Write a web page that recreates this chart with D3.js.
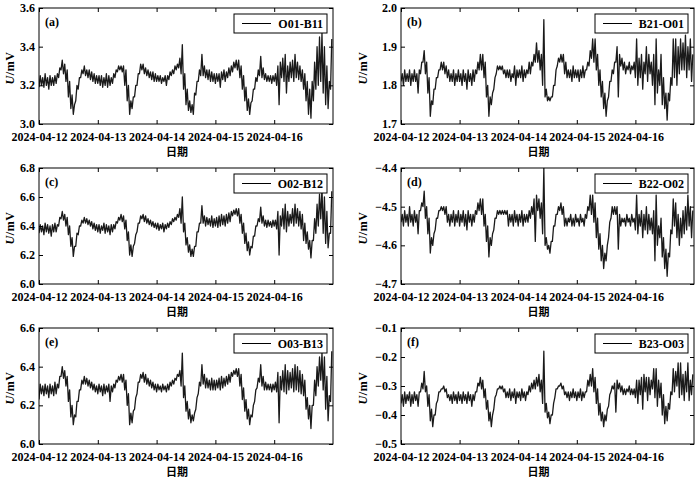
<!DOCTYPE html>
<html>
<head>
<meta charset="utf-8">
<script src="https://cdn.jsdelivr.net/npm/d3@7"></script>
<style>
    body { margin: 0; background: #fff; }
    text { font-family: "Liberation Serif", "Times New Roman", serif; fill: #000; }
</style>
</head>
<body>
<div id="chart"></div>
<script>

// ---- data (hourly low / high of each trace) ----
const dayLabels = ["2024-04-12", "2024-04-13", "2024-04-14", "2024-04-15", "2024-04-16"];
const panelTags = ["(a)", "(b)", "(c)", "(d)", "(e)", "(f)"];
const legendNames = ["O01-B11", "B21-O01", "O02-B12", "B22-O02", "O03-B13", "B23-O03"];

const yTicksA = [3.0, 3.2, 3.4, 3.6];
const yTicksB = [1.7, 1.8, 1.9, 2.0];
const yTicksC = [6.0, 6.2, 6.4, 6.6, 6.8];
const yTicksD = [-4.7, -4.6, -4.5, -4.4];
const yTicksE = [6.0, 6.2, 6.4, 6.6];
const yTicksF = [-0.5, -0.4, -0.3, -0.2, -0.1];

const loA = [3.19,3.20,3.19,3.20,3.18,3.20,3.20,3.21, 3.24,3.28,3.26,3.22,3.14,3.08,3.05,3.12,
    3.18,3.24,3.26,3.25,3.24,3.23,3.22,3.21, 3.21,3.20,3.19,3.20,3.19,3.20,3.21,3.24,
    3.27,3.28,3.27,3.20,3.12,3.05,3.08,3.14, 3.20,3.26,3.28,3.26,3.25,3.24,3.23,3.22,
    3.22,3.22,3.21,3.22,3.20,3.23,3.25,3.26, 3.28,3.29,3.26,3.18,3.10,3.07,3.06,3.05,
    3.15,3.22,3.25,3.25,3.24,3.23,3.22,3.22, 3.21,3.22,3.19,3.23,3.22,3.24,3.25,3.27,
    3.29,3.28,3.24,3.18,3.12,3.07,3.05,3.12, 3.18,3.22,3.25,3.24,3.23,3.22,3.22,3.21,
    3.22,3.20,3.10,3.24,3.22,3.16,3.22,3.24, 3.22,3.24,3.23,3.22,3.18,3.12,3.05,3.03,
    3.12,3.18,3.20,3.22,3.16,3.10,3.08,3.18];
const hiA = [3.25,3.24,3.26,3.24,3.25,3.24,3.25,3.26, 3.29,3.33,3.31,3.28,3.22,3.15,3.10,3.20,
    3.24,3.28,3.30,3.28,3.28,3.27,3.26,3.25, 3.25,3.25,3.24,3.26,3.25,3.24,3.26,3.28,
    3.30,3.30,3.30,3.28,3.20,3.12,3.14,3.20, 3.26,3.31,3.31,3.29,3.28,3.27,3.27,3.26,
    3.25,3.25,3.24,3.25,3.25,3.27,3.28,3.30, 3.31,3.34,3.41,3.26,3.18,3.12,3.10,3.16,
    3.22,3.28,3.36,3.30,3.28,3.28,3.27,3.26, 3.26,3.26,3.27,3.28,3.27,3.29,3.30,3.32,
    3.33,3.33,3.30,3.25,3.19,3.13,3.11,3.18, 3.24,3.28,3.35,3.29,3.26,3.25,3.25,3.25,
    3.26,3.30,3.32,3.34,3.36,3.30,3.32,3.33, 3.36,3.32,3.30,3.28,3.26,3.22,3.18,3.22,
    3.32,3.40,3.45,3.47,3.40,3.30,3.22,3.44];

const loB = [1.81,1.80,1.81,1.81,1.80,1.81,1.81,1.78, 1.83,1.86,1.83,1.78,1.72,1.75,1.79,1.82,
    1.84,1.84,1.83,1.82,1.81,1.81,1.80,1.81, 1.81,1.80,1.81,1.79,1.81,1.80,1.81,1.83,
    1.84,1.84,1.82,1.77,1.72,1.75,1.79,1.83, 1.84,1.84,1.83,1.82,1.82,1.81,1.82,1.80,
    1.82,1.82,1.81,1.82,1.83,1.83,1.85,1.86, 1.86,1.84,1.80,1.77,1.76,1.76,1.77,1.80,
    1.85,1.86,1.86,1.83,1.82,1.82,1.81,1.82, 1.82,1.81,1.82,1.82,1.84,1.85,1.87,1.86,
    1.84,1.80,1.77,1.74,1.72,1.77,1.81,1.83, 1.86,1.77,1.85,1.84,1.83,1.84,1.83,1.84,
    1.82,1.80,1.82,1.79,1.83,1.81,1.83,1.80, 1.75,1.78,1.80,1.75,1.74,1.71,1.76,1.80,
    1.82,1.80,1.83,1.84,1.84,1.82,1.84,1.81];
const hiB = [1.83,1.84,1.83,1.84,1.83,1.84,1.83,1.84, 1.86,1.89,1.86,1.82,1.76,1.79,1.82,1.84,
    1.86,1.86,1.85,1.84,1.83,1.84,1.83,1.84, 1.83,1.84,1.83,1.84,1.83,1.84,1.84,1.86,
    1.88,1.88,1.86,1.80,1.77,1.78,1.82,1.85, 1.85,1.85,1.84,1.84,1.84,1.83,1.85,1.84,
    1.84,1.85,1.84,1.84,1.86,1.86,1.88,1.91, 1.89,1.88,1.97,1.79,1.77,1.77,1.80,1.84,
    1.87,1.88,1.88,1.86,1.84,1.84,1.85,1.84, 1.84,1.84,1.85,1.84,1.86,1.89,1.92,1.92,
    1.88,1.84,1.81,1.78,1.76,1.81,1.84,1.86, 1.90,1.88,1.87,1.86,1.85,1.86,1.85,1.86,
    1.92,1.87,1.88,1.86,1.90,1.88,1.86,1.88, 1.92,1.84,1.88,1.82,1.78,1.78,1.82,1.92,
    1.92,1.90,1.92,1.91,1.93,1.90,1.92,1.88];

const loC = [6.35,6.36,6.34,6.36,6.35,6.33,6.36,6.36, 6.40,6.45,6.44,6.40,6.34,6.26,6.19,6.26,
    6.34,6.40,6.42,6.42,6.41,6.40,6.38,6.37, 6.36,6.35,6.37,6.35,6.36,6.34,6.36,6.38,
    6.42,6.44,6.43,6.38,6.30,6.20,6.19,6.28, 6.36,6.42,6.45,6.43,6.42,6.41,6.40,6.39,
    6.38,6.37,6.38,6.36,6.38,6.39,6.41,6.43, 6.44,6.46,6.42,6.36,6.27,6.22,6.19,6.19,
    6.26,6.36,6.42,6.42,6.40,6.41,6.40,6.39, 6.40,6.39,6.40,6.41,6.40,6.42,6.43,6.47,
    6.48,6.47,6.42,6.35,6.28,6.23,6.20,6.25, 6.33,6.40,6.43,6.42,6.40,6.39,6.40,6.39,
    6.40,6.38,6.20,6.40,6.38,6.36,6.40,6.42, 6.40,6.42,6.40,6.38,6.30,6.28,6.24,6.18,
    6.30,6.35,6.40,6.45,6.35,6.28,6.25,6.35];
const hiC = [6.41,6.40,6.42,6.41,6.40,6.41,6.42,6.41, 6.46,6.50,6.48,6.46,6.40,6.32,6.26,6.35,
    6.40,6.44,6.46,6.45,6.44,6.43,6.42,6.41, 6.41,6.40,6.42,6.41,6.40,6.41,6.41,6.43,
    6.46,6.48,6.47,6.44,6.36,6.27,6.26,6.34, 6.42,6.47,6.48,6.47,6.45,6.44,6.43,6.42,
    6.42,6.41,6.42,6.41,6.42,6.43,6.45,6.46, 6.48,6.52,6.60,6.42,6.32,6.27,6.24,6.26,
    6.36,6.42,6.54,6.47,6.46,6.45,6.47,6.45, 6.46,6.47,6.48,6.47,6.48,6.49,6.50,6.51,
    6.52,6.52,6.48,6.42,6.35,6.29,6.26,6.33, 6.40,6.45,6.53,6.47,6.44,6.44,6.43,6.44,
    6.44,6.50,6.47,6.52,6.55,6.50,6.48,6.52, 6.55,6.52,6.50,6.48,6.42,6.36,6.30,6.30,
    6.45,6.55,6.62,6.66,6.60,6.50,6.35,6.64];

const loD = [-4.54,-4.55,-4.54,-4.55,-4.54,-4.55,-4.54,-4.57, -4.51,-4.50,-4.53,-4.57,-4.62,-4.60,-4.56,-4.53,
    -4.51,-4.51,-4.52,-4.54,-4.55,-4.54,-4.55,-4.54, -4.55,-4.54,-4.55,-4.56,-4.54,-4.55,-4.54,-4.52,
    -4.51,-4.52,-4.55,-4.59,-4.63,-4.60,-4.56,-4.53, -4.52,-4.52,-4.52,-4.52,-4.55,-4.54,-4.55,-4.54,
    -4.55,-4.54,-4.55,-4.54,-4.54,-4.53,-4.52,-4.59, -4.51,-4.53,-4.57,-4.60,-4.61,-4.62,-4.59,-4.55,
    -4.52,-4.51,-4.52,-4.55,-4.55,-4.54,-4.55,-4.55, -4.54,-4.55,-4.54,-4.55,-4.53,-4.51,-4.52,-4.54,
    -4.58,-4.61,-4.64,-4.66,-4.64,-4.58,-4.53,-4.52, -4.52,-4.61,-4.55,-4.54,-4.55,-4.54,-4.55,-4.54,
    -4.56,-4.57,-4.55,-4.58,-4.56,-4.57,-4.56,-4.57, -4.64,-4.60,-4.58,-4.63,-4.66,-4.68,-4.63,-4.57,
    -4.55,-4.58,-4.60,-4.58,-4.57,-4.56,-4.55,-4.58];
const hiD = [-4.52,-4.51,-4.52,-4.50,-4.52,-4.51,-4.52,-4.51, -4.49,-4.46,-4.50,-4.53,-4.58,-4.57,-4.53,-4.51,
    -4.50,-4.50,-4.50,-4.52,-4.52,-4.51,-4.52,-4.51, -4.52,-4.51,-4.52,-4.51,-4.52,-4.52,-4.51,-4.49,
    -4.48,-4.48,-4.52,-4.55,-4.58,-4.57,-4.53,-4.51, -4.51,-4.51,-4.51,-4.51,-4.52,-4.52,-4.51,-4.52,
    -4.52,-4.51,-4.52,-4.52,-4.51,-4.50,-4.48,-4.47, -4.48,-4.49,-4.40,-4.58,-4.60,-4.59,-4.55,-4.52,
    -4.50,-4.49,-4.50,-4.53,-4.53,-4.52,-4.53,-4.52, -4.53,-4.52,-4.53,-4.52,-4.50,-4.47,-4.47,-4.49,
    -4.53,-4.57,-4.60,-4.62,-4.60,-4.54,-4.50,-4.50, -4.50,-4.52,-4.53,-4.53,-4.52,-4.53,-4.52,-4.53,
    -4.47,-4.52,-4.51,-4.52,-4.50,-4.52,-4.53,-4.51, -4.47,-4.55,-4.53,-4.58,-4.61,-4.62,-4.56,-4.48,
    -4.49,-4.52,-4.53,-4.51,-4.50,-4.47,-4.50,-4.51];

const loE = [6.23,6.26,6.25,6.26,6.24,6.26,6.25,6.26, 6.29,6.35,6.34,6.30,6.22,6.14,6.10,6.14,
    6.22,6.28,6.31,6.31,6.30,6.29,6.28,6.27, 6.26,6.27,6.25,6.26,6.27,6.22,6.27,6.29,
    6.32,6.33,6.32,6.28,6.20,6.10,6.11,6.18, 6.26,6.32,6.34,6.32,6.31,6.30,6.29,6.28,
    6.27,6.28,6.27,6.28,6.27,6.28,6.30,6.31, 6.33,6.35,6.30,6.24,6.17,6.13,6.11,6.12,
    6.18,6.26,6.30,6.31,6.29,6.29,6.28,6.28, 6.28,6.29,6.28,6.29,6.30,6.31,6.32,6.35,
    6.36,6.35,6.30,6.23,6.17,6.13,6.10,6.14, 6.22,6.29,6.32,6.30,6.28,6.28,6.28,6.27,
    6.28,6.27,6.11,6.28,6.27,6.26,6.28,6.29, 6.27,6.28,6.27,6.26,6.25,6.18,6.13,6.08,
    6.20,6.25,6.30,6.33,6.28,6.18,6.12,6.22];
const hiE = [6.31,6.30,6.31,6.30,6.31,6.30,6.32,6.31, 6.35,6.40,6.38,6.35,6.28,6.20,6.15,6.22,
    6.28,6.33,6.35,6.34,6.33,6.32,6.31,6.30, 6.31,6.30,6.31,6.30,6.31,6.30,6.31,6.33,
    6.35,6.36,6.36,6.33,6.26,6.16,6.17,6.24, 6.32,6.36,6.37,6.36,6.34,6.33,6.32,6.31,
    6.31,6.30,6.31,6.30,6.31,6.32,6.33,6.34, 6.36,6.38,6.47,6.30,6.22,6.18,6.15,6.16,
    6.24,6.32,6.41,6.36,6.34,6.33,6.34,6.33, 6.33,6.34,6.35,6.34,6.35,6.36,6.37,6.38,
    6.39,6.39,6.36,6.29,6.23,6.18,6.15,6.20, 6.28,6.34,6.41,6.35,6.32,6.31,6.31,6.31,
    6.32,6.37,6.35,6.38,6.41,6.38,6.37,6.39, 6.41,6.40,6.38,6.36,6.33,6.24,6.20,6.20,
    6.33,6.40,6.45,6.47,6.45,6.35,6.25,6.48];

const loF = [-0.36,-0.37,-0.36,-0.35,-0.37,-0.36,-0.35,-0.37, -0.32,-0.31,-0.32,-0.37,-0.42,-0.44,-0.40,-0.35,
    -0.32,-0.31,-0.32,-0.34,-0.35,-0.36,-0.35,-0.36, -0.35,-0.36,-0.35,-0.36,-0.35,-0.37,-0.35,-0.32,
    -0.30,-0.31,-0.34,-0.38,-0.42,-0.44,-0.38,-0.33, -0.31,-0.31,-0.32,-0.34,-0.34,-0.35,-0.34,-0.36,
    -0.34,-0.35,-0.34,-0.35,-0.33,-0.32,-0.31,-0.31, -0.30,-0.32,-0.36,-0.39,-0.41,-0.43,-0.40,-0.34,
    -0.31,-0.30,-0.31,-0.33,-0.34,-0.35,-0.34,-0.34, -0.35,-0.34,-0.35,-0.34,-0.32,-0.30,-0.30,-0.32,
    -0.36,-0.40,-0.42,-0.44,-0.42,-0.37,-0.32,-0.31, -0.39,-0.31,-0.32,-0.33,-0.33,-0.32,-0.33,-0.33,
    -0.34,-0.36,-0.33,-0.38,-0.32,-0.35,-0.33,-0.31, -0.34,-0.37,-0.34,-0.40,-0.43,-0.42,-0.38,-0.33,
    -0.32,-0.30,-0.34,-0.33,-0.35,-0.32,-0.35,-0.33];
const hiF = [-0.33,-0.32,-0.33,-0.32,-0.33,-0.32,-0.33,-0.32, -0.29,-0.25,-0.30,-0.33,-0.38,-0.40,-0.36,-0.32,
    -0.31,-0.30,-0.31,-0.33,-0.33,-0.32,-0.33,-0.32, -0.33,-0.32,-0.33,-0.32,-0.33,-0.33,-0.32,-0.29,
    -0.27,-0.28,-0.31,-0.35,-0.39,-0.40,-0.34,-0.31, -0.30,-0.30,-0.31,-0.32,-0.31,-0.32,-0.31,-0.32,
    -0.32,-0.31,-0.32,-0.32,-0.30,-0.29,-0.28,-0.27, -0.26,-0.28,-0.18,-0.36,-0.39,-0.40,-0.36,-0.31,
    -0.30,-0.29,-0.30,-0.32,-0.32,-0.32,-0.31,-0.32, -0.32,-0.31,-0.32,-0.32,-0.28,-0.26,-0.24,-0.27,
    -0.31,-0.36,-0.39,-0.40,-0.38,-0.33,-0.30,-0.29, -0.28,-0.29,-0.30,-0.31,-0.31,-0.30,-0.31,-0.31,
    -0.28,-0.28,-0.27,-0.26,-0.27,-0.27,-0.28,-0.24, -0.24,-0.28,-0.29,-0.33,-0.37,-0.36,-0.32,-0.24,
    -0.25,-0.22,-0.22,-0.26,-0.25,-0.22,-0.28,-0.26];


/* * * * * * * * * * * * * *
*      class PanelChart     *
* * * * * * * * * * * * * */

class PanelChart {

    constructor(svg, index, box, yTicks, lo, hi) {
        this.svg = svg;
        this.index = index;
        this.box = box;
        this.yTicks = yTicks;
        this.lo = lo;
        this.hi = hi;
        this.displayData = [];

        this.initVis();
    }

    initVis() {
        let vis = this;

        vis.width = vis.box.w;
        vis.height = vis.box.h;

        vis.g = vis.svg.append("g")
            .attr("transform", `translate(${vis.box.x}, ${vis.box.y})`);

        vis.g.append("clipPath")
            .attr("id", "clip" + vis.index)
            .append("rect")
            .attr("width", vis.width)
            .attr("height", vis.height);

        vis.days = dayLabels.map(d => d3.utcParse("%Y-%m-%d")(d));

        // scales
        vis.x = d3.scaleUtc()
            .domain([vis.days[0], d3.utcDay.offset(vis.days[0], 5)])
            .range([0, vis.width]);

        vis.y = d3.scaleLinear()
            .domain(d3.extent(vis.yTicks))
            .range([vis.height, 0]);

        vis.wrangleData();
    }

    wrangleData() {
        let vis = this;
        vis.displayData = [];

        // each hour: low at the start, high half an hour later
        vis.lo.forEach(function (v, i) {
            vis.displayData.push({t: d3.utcMinute.offset(vis.days[0], i * 60), v: v});
            vis.displayData.push({t: d3.utcMinute.offset(vis.days[0], i * 60 + 30), v: vis.hi[i]});
        });

        vis.updateVis();
    }

    updateVis() {
        let vis = this;

        // the dense trace
        vis.g.append("path")
            .datum(vis.displayData)
            .attr("clip-path", `url(#clip${vis.index})`)
            .attr("fill", "none")
            .attr("stroke", "#1a1a1a")
            .attr("stroke-width", 1.3)
            .attr("stroke-linejoin", "round")
            .attr("d", d3.line()
                .x(d => vis.x(d.t))
                .y(d => vis.y(d.v)));

        // axes, ticks point inward
        let fmt = d3.utcFormat("%Y-%m-%d");
        vis.g.append("g")
            .attr("class", "axis x-axis")
            .attr("transform", `translate(0, ${vis.height})`)
            .call(d3.axisBottom(vis.x).tickValues(vis.days).tickFormat(fmt)
                .tickSizeInner(-4).tickSizeOuter(0).tickPadding(8.5));

        vis.g.append("g")
            .attr("class", "axis")
            .call(d3.axisTop(vis.x).tickValues(vis.days).tickFormat("")
                .tickSizeInner(-4).tickSizeOuter(0));

        vis.g.append("g")
            .attr("class", "axis y-axis")
            .call(d3.axisLeft(vis.y).tickValues(vis.yTicks).tickFormat(d3.format(".1f"))
                .tickSizeInner(-4).tickSizeOuter(0).tickPadding(4));

        vis.g.append("g")
            .attr("class", "axis")
            .attr("transform", `translate(${vis.width}, 0)`)
            .call(d3.axisRight(vis.y).tickValues(vis.yTicks).tickFormat("")
                .tickSizeInner(-4).tickSizeOuter(0));

        vis.g.selectAll(".axis .domain").remove();
        vis.g.selectAll(".axis text")
            .attr("font-family", null)
            .style("font-size", "12px")
            .style("font-weight", "bold");
        vis.g.selectAll(".y-axis text").attr("dy", "0.28em");
        vis.g.selectAll(".axis line").attr("stroke", "#000");

        // frame
        vis.g.append("rect")
            .attr("width", vis.width)
            .attr("height", vis.height)
            .attr("fill", "none")
            .attr("stroke", "#000")
            .attr("stroke-width", 1);

        // panel tag
        vis.g.append("text")
            .attr("x", 6)
            .attr("y", 18)
            .style("font-size", "12px")
            .style("font-weight", "bold")
            .text(panelTags[vis.index]);

        // legend
        let lg = vis.g.append("g")
            .attr("transform", `translate(${vis.width - 99}, 6)`);
        lg.append("rect")
            .attr("width", 93)
            .attr("height", 19)
            .attr("fill", "#fff")
            .attr("stroke", "#000");
        lg.append("line")
            .attr("x1", 8).attr("x2", 37)
            .attr("y1", 9.5).attr("y2", 9.5)
            .attr("stroke", "#000");
        lg.append("text")
            .attr("x", 89)
            .attr("y", 14)
            .attr("text-anchor", "end")
            .style("font-size", "12px")
            .style("font-weight", "bold")
            .text(legendNames[vis.index]);

        // axis titles
        vis.g.append("text")
            .attr("x", vis.width / 2 - 9)
            .attr("y", vis.height + 32)
            .attr("text-anchor", "middle")
            .style("font-family", "'Noto Sans CJK SC', sans-serif")
            .style("font-size", "11px")
            .style("font-weight", "bold")
            .text("日期");

        // right-hand column has wider tick labels, title sits further out
        let titleX = vis.index % 2 === 0 ? -25 : -34;
        let yt = vis.g.append("text")
            .attr("transform", `translate(${titleX}, ${vis.height / 2 + 2}) rotate(-90)`)
            .attr("text-anchor", "middle")
            .style("font-size", "12px")
            .style("font-weight", "bold")
            .style("letter-spacing", "0.6px");
        yt.append("tspan").style("font-style", "italic").text("U");
        yt.append("tspan").text("/mV");
    }
}


let svg = d3.select("#chart").append("svg")
    .attr("width", 700)
    .attr("height", 480)
    .style("background", "#fff");

let boxes = [
    {x: 39, y: 8, w: 294, h: 116}, {x: 401, y: 8, w: 293, h: 116},
    {x: 39, y: 168, w: 294, h: 116}, {x: 401, y: 168, w: 293, h: 116},
    {x: 39, y: 328, w: 294, h: 116}, {x: 401, y: 328, w: 293, h: 116}
];
let tickSets = [yTicksA, yTicksB, yTicksC, yTicksD, yTicksE, yTicksF];
let lows = [loA, loB, loC, loD, loE, loF];
let highs = [hiA, hiB, hiC, hiD, hiE, hiF];

let panels = boxes.map((b, i) => new PanelChart(svg, i, b, tickSets[i], lows[i], highs[i]));

</script>
</body>
</html>
